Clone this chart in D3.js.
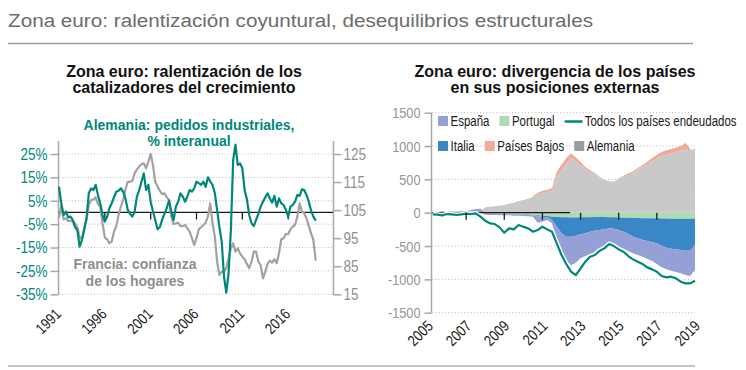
<!DOCTYPE html>
<html><head><meta charset="utf-8">
<script src="https://cdn.jsdelivr.net/npm/d3@7"></script>
<style>
body{margin:0;background:#fff;}
svg text{font-family:"Liberation Sans",Arial,sans-serif;}
</style></head><body>
<svg id="c" width="746" height="370"></svg>
<script>
// ---------------- DATA ----------------
const mainTitle = "Zona euro: ralentización coyuntural, desequilibrios estructurales";
const leftTitle = ["Zona euro: ralentización de los", "catalizadores del crecimiento"];
const rightTitle = ["Zona euro: divergencia de los países", "en sus posiciones externas"];
const tealLabel = ["Alemania: pedidos industriales,", "% interanual"];
const greyLabel = ["Francia: confianza", "de los hogares"];

// Left chart: quarterly, starting 1991 Q1
const leftStart = 1991;
const germanOrders = [
 11.0, 3.9, -1.1, 0.4,   -2.1, -1.8, -3.2, -6.3,   -7.5, -14.6, -11.8, -7.5,
 -2.5, 8.2, 10.3, 9.6,   11.8, 7.5, 3.9, -1.1,    -3.9, -1.8, 1.8, 3.9,
 6.5, 8.9, 9.3, 10.3,    8.9, 6.0, 1.1, -0.6,     -1.8, 0.4, 6.8, 9.6,
 13.2, 16.7, 9.6, 11.8,  4.6, 0.4, -3.2, -7.2,    -6.3, -3.2, -0.6, 1.8,
 5.1, 0.4, -3.2, 2.5,    4.6, 8.2, 6.8, 4.6,      6.8, 9.6, 8.9, 10.3,
 13.2, 12.5, 11.8, 13.2, 11.0, 15.0, 13.2, 11.8,  8.2, 1.1, -6.3, -12.5,
 -27.4, -34.3, -26.0, -7.5, 22.4, 29.0, 20.3, 21.0, 18.9, 9.6, 5.6, -1.1,
 -4.6, -5.8, -3.2, -0.6, 2.5, 4.6, 6.5, 8.2,      6.0, 4.2, 7.1, 2.5,
 6.0, 3.9, 3.2, 1.1,     -1.8, 2.5, 3.2, 4.6,     7.5, 7.1, 9.9, 9.6,
 7.5, 4.6, 0.8, -1.8,    -3.5
];
const frenchConfidence = [
 102.1, 106.8, 101.7, 102.1, 101.1, 101.2, 100.9, 100.3, 98.9, 95.3, 94.6, 98.9,
 101.5, 106.8, 108.6, 108.8, 109.6, 107.2, 106.2, 100.3, 95.3, 94.6, 93.2, 93.8,
 97.3, 99.3, 103.3, 106.2,  108.8, 112.4, 115.1, 115.1, 115.5, 118.1, 119.5, 120.5,
 121.4, 121.7, 119.9, 122.3, 125.0, 121.1, 115.1, 113.4, 111.9, 110.7, 111.0, 109.6,
 108.6, 102.7, 100.1, 100.3, 100.5, 99.3, 99.3, 99.7,   98.5, 97.3, 95.0, 92.6,
 95.0, 98.2, 98.9, 99.7,    100.5, 102.9, 107.4, 100.3, 95.5, 86.6, 81.9, 83.1,
 83.1, 84.3, 87.8, 91.4,    93.2, 90.2, 91.4, 89.6,     88.4, 87.5, 85.8, 84.3,
 86.6, 90.2, 90.2, 86.6,    85.4, 80.7, 83.1, 85.8,     87.0, 86.3, 87.5, 86.1,
 89.6, 94.6, 95.0, 96.5,    96.4, 98.2, 99.1, 99.7,     102.7, 107.4, 104.5, 103.9,
 102.1, 99.3, 96.7, 94.4,   87.0
];
const leftYearTicks = [1991, 1996, 2001, 2006, 2011, 2016];
const pctTicks = [25, 15, 5, -5, -15, -25, -35];
const idxTicks = [125, 115, 105, 95, 85, 75];
const idxTickLabels = ["125", "115", "105", "95", "85", "15"];

// Right chart: quarterly, starting 2005 Q2 (EUR bn)
const rightStart = 2005.25;
const alemania = [
 0, 0, 0, 0, 0, 0, 0, 0, 0, 0,
 10, 80, 90, 95, 105, 115, 135, 150, 175, 190, 210, 235, 275, 300, 310, 330, 540,
 640, 730, 820, 770, 710, 650, 610, 580, 535, 490, 470, 465, 510, 540, 570, 595,
 650, 690, 735, 775, 815, 850, 870, 890, 910, 930, 945, 940, 960
];
const paisesBajos = [
 0, 0, 0, 0, 0, 0, 0, 0, 0, 0, 0, 0, 0, 0, 0, 0, 0, 0, 0, 0, 0,
 15, 25, 30, 35, 40, 70, 80, 90, 70, 60, 50, 35, 25, 15, 5, 5, 0, 0,
 10, 15, 20, 25, 20, 25, 30, 45, 55, 60, 65, 65, 65, 70, 100, 20, 0
];
const portugal = [
 0, 0, 0, 0, 0, 0, 0, 0, 0, 0, 0,
 -5, -8, -10, -12, -15, -18, -20, -22, -25, -28, -35, -40, -45, -50, -60, -65,
 -70, -70, -72, -72, -70, -68, -68, -65, -65, -65, -68, -70, -72, -75, -75, -78,
 -80, -82, -82, -85, -85, -88, -88, -90, -90, -90, -92, -92, -90
];
const italia = [
 0, 0, 0, 0, 0, 0, 0, 0, 0, 0, 0, 0, 0, 0, 0,
 -5, -5, -5, -5, -5, -5, -5, -10,
 -15, -20, -50, -145, -240, -290, -288, -273, -255, -242, -217, -205,
 -195, -185, -167, -170, -188, -210, -245, -282, -305, -328, -343, -360,
 -375, -412, -437, -450, -460, -470, -478, -478, -395
];
const espana = [
 15, 10, 20, 15, 20, 15, 25, 20, 40, 55, 50,
 -25, -27, -25, -28, -20, -17, -20, -18, -20, -22, -20, -100,
 -75, -40, -50, -200, -275, -360, -430, -405, -360, -340, -340, -325,
 -290, -260, -225, -230, -250, -255, -255, -250, -250, -250, -270, -280,
 -310, -320, -325, -330, -340, -350, -365, -380, -375
];
const todosEndeudados = [
 -25, -30, -40, -20, -25, -35, -25, -15, -20, -10, -60,
 -120, -160, -170, -220, -300, -235, -250, -185, -210, -235, -285, -260,
 -210, -250, -285, -460, -635, -770, -885, -935, -835, -735, -660, -635,
 -570, -535, -470, -500, -550, -585, -650, -700, -735, -770, -820, -850,
 -885, -950, -970, -960, -985, -1035, -1060, -1060, -1020
];
const rightYearLabels = [2005, 2007, 2009, 2011, 2013, 2015, 2017, 2019];
const rightZeroTicks = [2007, 2009, 2011, 2013, 2015, 2017];
const rightValTicks = [1500, 1000, 500, 0, -500, -1000, -1500];
const legendRow1 = ["España", "Portugal", "Todos los países endeudados"];
const legendRow2 = ["Italia", "Países Bajos", "Alemania"];

// ---------------- STYLE ----------------
const TEAL = "#00877b", GREYLINE = "#a2a2a2", AXIS = "#a8a8a8", GRID = "#b8b8b8";
const SANS = '"Liberation Sans", Arial, sans-serif';
const NARROW_F = 0.82;   // condensed look
const colors = {
  "España": "#95a0d7", "Portugal": "#acdcb0", "Italia": "#3a87c8",
  "Países Bajos": "#f1aa98", "Alemania": "#c9c9c9"
};
const legendSwatch = { ...colors, "Alemania": "#9d9d9d" };

function narrow(sel, f = NARROW_F) {
  sel.each(function () {
    const w = this.getComputedTextLength();
    d3.select(this).attr("textLength", w * f).attr("lengthAdjust", "spacingAndGlyphs");
  });
  return sel;
}

const svg = d3.select("#c");

// header
svg.append("text").attr("x", 8).attr("y", 27).attr("font-family", SANS)
  .attr("font-size", 18).attr("fill", "#6c6c6c")
  .attr("textLength", 585).attr("lengthAdjust", "spacingAndGlyphs").text(mainTitle);
svg.append("line").attr("x1", 8).attr("x2", 693).attr("y1", 43.5).attr("y2", 43.5)
  .attr("stroke", "#9c9c9c").attr("stroke-width", 1.5);
svg.append("line").attr("x1", 8).attr("x2", 695).attr("y1", 366).attr("y2", 366)
  .attr("stroke", "#b3b3b3").attr("stroke-width", 1.5);

function block(lines, cx, y0, dy, size, fill) {
  lines.forEach((t, i) => {
    svg.append("text").attr("x", cx).attr("y", y0 + i * dy).attr("text-anchor", "middle")
      .attr("font-family", SANS).attr("font-weight", "bold").attr("font-size", size)
      .attr("fill", fill).text(t);
  });
}
block(leftTitle, 184, 76.5, 16.5, 16, "#111");
block(rightTitle, 555, 76.5, 16.5, 16, "#111");

// ---------------- LEFT CHART ----------------
const xL = d3.scaleLinear().domain([1991, 2021]).range([59, 334]);
const yL = d3.scaleLinear().domain([-35, 25]).range([294.3, 154]);
const yL2 = d3.scaleLinear().domain([75, 125]).range([294.3, 154]);
const L = svg.append("g");

L.selectAll(".gl").data(pctTicks).join("line")
  .attr("x1", 59).attr("x2", 333).attr("y1", d => yL(d)).attr("y2", d => yL(d))
  .attr("stroke", GRID).attr("stroke-dasharray", "1,2.2");

L.append("line").attr("x1", 58.5).attr("x2", 58.5).attr("y1", 141).attr("y2", 294.3)
  .attr("stroke", AXIS).attr("stroke-width", 1.5);
L.append("line").attr("x1", 333.5).attr("x2", 333.5).attr("y1", 141).attr("y2", 295)
  .attr("stroke", AXIS).attr("stroke-width", 1.5);

const axL = L.append("g").attr("transform", "translate(58.5,0)")
  .call(d3.axisLeft(yL).tickValues(pctTicks).tickFormat(d => d + "%").tickSize(8).tickPadding(3));
axL.select(".domain").remove();
axL.selectAll("line").attr("stroke", AXIS).attr("stroke-width", 1.5);
narrow(axL.selectAll("text").attr("fill", TEAL).attr("font-size", 16.5).attr("font-family", SANS));

const axR = L.append("g").attr("transform", "translate(333.5,0)")
  .call(d3.axisRight(yL2).tickValues(idxTicks).tickFormat((d, i) => idxTickLabels[i]).tickSize(8).tickPadding(2));
axR.select(".domain").remove();
axR.selectAll("line").attr("stroke", AXIS).attr("stroke-width", 1.5);
narrow(axR.selectAll("text").attr("fill", "#909090").attr("font-size", 16.5).attr("font-family", SANS));

// zero line + ticks
L.append("line").attr("x1", 58.5).attr("x2", 333).attr("y1", yL(0)).attr("y2", yL(0))
  .attr("stroke", "#1a1a1a").attr("stroke-width", 1.3);
L.selectAll(".zt").data(leftYearTicks.slice(1)).join("line")
  .attr("x1", d => xL(d)).attr("x2", d => xL(d)).attr("y1", yL(0)).attr("y2", yL(0) + 7)
  .attr("stroke", "#1a1a1a").attr("stroke-width", 1.3);

const lineL = d3.line().x((d, i) => xL(leftStart + i / 4));
L.append("path").datum(frenchConfidence).attr("fill", "none").attr("stroke", GREYLINE)
  .attr("stroke-width", 2.2).attr("stroke-linejoin", "round").attr("d", lineL.y(d => yL2(d)));
L.append("path").datum(germanOrders).attr("fill", "none").attr("stroke", TEAL)
  .attr("stroke-width", 2.2).attr("stroke-linejoin", "round").attr("d", lineL.y(d => yL(d)));

narrow(L.selectAll(".xl").data(leftYearTicks).join("text")
  .attr("transform", d => `translate(${xL(d) + 3},315) rotate(-45)`)
  .attr("text-anchor", "end").attr("font-size", 15.5).attr("fill", "#1a1a1a").text(d => d));

block(tealLabel, 189, 130, 16, 14, TEAL);
block(greyLabel, 135, 269, 17, 14, "#8e8e8e");

// ---------------- RIGHT CHART ----------------
const xR = d3.scaleLinear().domain([2005, 2019]).range([428, 695]);
const yR = d3.scaleLinear().domain([-1500, 1500]).range([312.7, 112.7]);
const R = svg.append("g");

R.selectAll(".gr").data(rightValTicks.filter(d => d !== 0)).join("line")
  .attr("x1", 432).attr("x2", 695).attr("y1", d => yR(d)).attr("y2", d => yR(d))
  .attr("stroke", GRID).attr("stroke-dasharray", "1,2.2");

const keys = ["Alemania", "Países Bajos", "Portugal", "Italia", "España"];
const series = { "Alemania": alemania, "Países Bajos": paisesBajos, "Portugal": portugal, "Italia": italia, "España": espana };
const rows = alemania.map((_, i) => {
  const r = { t: rightStart + i / 4 };
  keys.forEach(k => r[k] = series[k][i]);
  return r;
});
const stacked = d3.stack().keys(keys).offset(d3.stackOffsetDiverging)(rows);
const area = d3.area().x(d => xR(d.data.t)).y0(d => yR(d[0])).y1(d => yR(d[1]));
R.selectAll(".ar").data(stacked).join("path")
  .attr("fill", d => colors[d.key]).attr("d", area);

R.append("line").attr("x1", 431).attr("x2", xR(2012.45)).attr("y1", yR(0)).attr("y2", yR(0))
  .attr("stroke", "#1a1a1a").attr("stroke-width", 1.3);

const lineR = d3.line().x((d, i) => xR(rightStart + i / 4)).y(d => yR(d));
R.append("path").datum(todosEndeudados).attr("fill", "none").attr("stroke", "#fff")
  .attr("stroke-width", 5).attr("stroke-linejoin", "round").attr("d", lineR);
R.append("path").datum(todosEndeudados).attr("fill", "none").attr("stroke", TEAL)
  .attr("stroke-width", 2.2).attr("stroke-linejoin", "round").attr("d", lineR);

R.selectAll(".zt").data(rightZeroTicks).join("line")
  .attr("x1", d => xR(d)).attr("x2", d => xR(d)).attr("y1", yR(0)).attr("y2", yR(0) + 7)
  .attr("stroke", "#1a1a1a").attr("stroke-width", 1.3);

R.append("line").attr("x1", 431.5).attr("x2", 431.5).attr("y1", 112.7).attr("y2", 312.7)
  .attr("stroke", AXIS).attr("stroke-width", 1.5);
const axY = R.append("g").attr("transform", "translate(431.5,0)")
  .call(d3.axisLeft(yR).tickValues(rightValTicks).tickFormat(d => String(d)).tickSize(7).tickPadding(4));
axY.select(".domain").remove();
axY.selectAll("line").attr("stroke", AXIS).attr("stroke-width", 1.5);
narrow(axY.selectAll("text").attr("fill", "#959595").attr("font-size", 15.5).attr("font-family", SANS));

narrow(R.selectAll(".xl").data(rightYearLabels).join("text")
  .attr("transform", d => `translate(${xR(d) + 6},327) rotate(-45)`)
  .attr("text-anchor", "end").attr("font-size", 15.5).attr("fill", "#1a1a1a").text(d => d));

// legend
function legendRow(items, y) {
  let x = 438;
  items.forEach(name => {
    if (name === "Todos los países endeudados") {
      R.append("line").attr("x1", x).attr("x2", x + 18).attr("y1", y - 4.5).attr("y2", y - 4.5)
        .attr("stroke", TEAL).attr("stroke-width", 2.5);
      x += 20;
    } else {
      R.append("rect").attr("x", x).attr("y", y - 10).attr("width", 10).attr("height", 10)
        .attr("fill", legendSwatch[name]);
      x += 12.5;
    }
    const t = R.append("text").attr("transform", `translate(${x},${y}) scale(${NARROW_F},1)`)
      .attr("font-size", 14).attr("fill", "#1a1a1a").text(name);
    x += t.node().getComputedTextLength() * NARROW_F + 10;
  });
}
legendRow(legendRow1, 126);
legendRow(legendRow2, 151);
</script>
</body></html>
